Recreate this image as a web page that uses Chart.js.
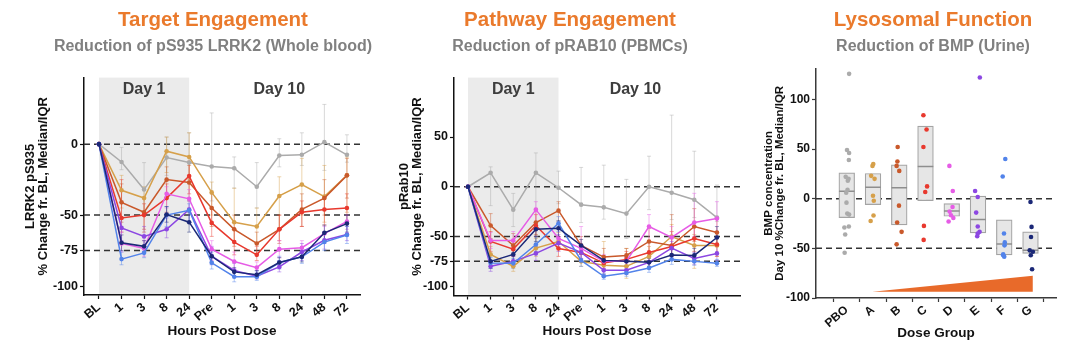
<!DOCTYPE html>
<html>
<head>
<meta charset="utf-8">
<script src="https://cdn.jsdelivr.net/npm/chart.js@4.4.1/dist/chart.umd.min.js"></script>
<style>
  html, body { margin: 0; padding: 0; background: #fff; overflow: hidden; width: 1079px; height: 352px; }
  canvas { position: absolute; top: 0; }
</style>
</head>
<body>
<canvas id="targetChart" width="426" height="352" style="left:0px"></canvas>
<canvas id="pathwayChart" width="380" height="352" style="left:380px"></canvas>
<canvas id="bmpChart" width="346" height="352" style="left:760px"></canvas>
<script>
const FONT = '"Liberation Sans", Arial, sans-serif';

const hourLabels = ['BL', '1', '3', '8', '24', 'Pre', '1', '3', '8', '24', '48', '72'];
const doseGroups = ['PBO', 'A', 'B', 'C', 'D', 'E', 'F', 'G'];
const groupColors = ['#ABABAB', '#D6A04A', '#C9592B', '#E8392E', '#E65CE6', '#8C47E2', '#5283EA', '#1B2877'];

// pS935 LRRK2, % change from BL (median, IQR low, IQR high), rows = dose groups
const pS935Med = [
  [0, -12.6, -32, -9.4, -13, -15.7, -17, -30, -8, -7.5, 1.4, -7.5],
  [0, -32.5, -38, -5, -9, -34, -55, -58, -36.5, -28.5, -37, -22],
  [0, -41, -48, -25, -27, -45, -60, -70, -60, -46, -38, -22],
  [0, -52, -50, -38, -22.5, -55.5, -69, -78, -60, -48, -46, -45],
  [0, -70, -73.5, -35, -38.5, -74, -82.7, -87, -74, -73, -63, -54.5],
  [0, -59, -65, -60, -46, -79, -89, -93, -86.5, -76, -67.7, -63.7],
  [0, -81, -76.6, -50, -46.6, -83.6, -93.4, -93.4, -83.4, -79.4, -69, -64],
  [0, -69.5, -72, -49.6, -55, -79, -90, -92, -83.4, -79.4, -62.5, -56]
];
const pS935Lo = [
  [0, -18, -48, -22, -28, -40, -31, -45, -16, -15, -18.5, -12.7],
  [0, -45, -50, -20, -25, -50, -68, -70, -60, -50, -55, -48],
  [0, -55, -62, -38, -40, -58, -72, -78, -70, -58, -50, -38],
  [0, -62, -60, -48, -35, -65, -78, -82, -68, -58, -57, -55],
  [0, -76, -79, -45, -45, -82, -88, -91, -80, -79, -70, -60],
  [0, -68, -72, -66, -55, -85, -93, -95, -90, -82, -74, -68],
  [0, -85, -80, -58, -55, -88, -97, -96, -88, -84, -75, -70],
  [0, -75, -76, -55, -62, -83, -93, -94, -87, -83, -68, -62]
];
const pS935Hi = [
  [0, -2.3, -13, 5, 8, 22, -9, -13, 3.8, 8, 28, 6.6],
  [0, -22, -30, 5, 8, -26.7, -31, -45, -23, -10, -15, -9],
  [0, -28, -38, -16, -15, -35, -50, -62, -50, -35, -25, -10],
  [0, -25, -42, -28, -12, -45, -60, -72, -50, -40, -38, -35],
  [0, -62, -68, -30, -32, -68, -76, -83, -68, -68, -58, -50],
  [0, -52, -58, -52, -40, -72, -84, -89, -82, -70, -62, -58],
  [0, -76, -72, -44, -42, -76, -89, -90, -79, -74, -63, -58],
  [0, -64, -68, -44, -48, -75, -87, -89, -80, -75, -57, -50]
];

// pRab10, % change from BL (median, IQR low, IQR high)
const pRab10Med = [
  [0, 14, -23, 14, -1, -18, -20.7, -27, 0, -6, -13, -31],
  [0, -68, -80, -61.7, -55, -75, -79, -80, -70, -50, -59, -59],
  [0, -39, -59, -36, -24, -59, -70.7, -69, -55, -59, -40, -46],
  [0, -55, -62.7, -39, -62, -66, -76.7, -73, -66, -60, -52, -58],
  [0, -54, -54, -23, -52, -62, -75, -75, -40, -51, -36, -32],
  [0, -80, -75, -67, -56.7, -66, -84, -84, -76, -61.7, -72, -67],
  [0, -76.7, -77, -58, -36.7, -74, -90, -86.7, -81.7, -73, -75, -77],
  [0, -75, -68, -42.7, -41.7, -59, -74, -75, -76, -68.7, -69, -51]
];
const pRab10Lo = [
  [0, -19, -40, -23, -17, -36, -32.6, -52, -23, -33, -31, -35],
  [0, -75, -85, -70, -62, -80, -88, -92, -80, -60, -82, -70],
  [0, -52, -68, -48, -35, -68, -78, -76, -66, -70, -55, -58],
  [0, -65, -70, -50, -70, -74, -82, -80, -76, -72, -65, -70],
  [0, -62, -62, -35, -60, -72, -82, -82, -55, -60, -50, -45],
  [0, -85, -80, -74, -65, -72, -88, -88, -82, -70, -78, -74],
  [0, -82, -82, -65, -45, -80, -93, -90, -86, -78, -79, -80],
  [0, -82, -75, -55, -50, -65, -78, -79, -80, -74, -76, -60]
];
const pRab10Hi = [
  [0, 20, -6.7, 34, 15.7, 19.4, 21.7, 7.4, 30.7, 72, 35.7, 1.7],
  [0, -60, -74, -52, -46, -68, -55, -62, -60, -38, -48, -50],
  [0, -27, -47, -22, -15, -50, -62, -62, -42, -28, -22, -32],
  [0, -45, -55, -28, -50, -58, -70, -65, -55, -45, -40, -45],
  [0, -46, -45, -15, -42, -40, -68, -70, -28, -40, -6.6, -15],
  [0, -75, -70, -60, -48, -60, -79, -80, -70, -55, -66, -60],
  [0, -71, -72, -50, -30, -68, -87, -83, -77, -68, -71, -73],
  [0, -68, -62, -36, -34, -53, -70, -71, -72, -63, -62, -40]
];

// BMP (urine), Day 10 % change from BL: individual values and horizontal jitter
const bmpValues = [
  [125.7, 49, 46, 39, 22, 20, 18, 9, 6, -4, -15, -16, -28, -29, -36, -54.5],
  [33, 35, 23, 20, 3, -2, -17, -22.4],
  [52, 37.5, 33, 28, -7, -24, -33.4, -46],
  [84, 69.6, 52, 12.4, 6.7, -27.4, -41.5],
  [33, 7.7, -8.4, -13, -16.7, -23, -19.4],
  [122, 7.7, 1.7, -14, -28, -33.4, -35, -37.8],
  [40, 22.4, -35, -44, -47, -56, -58.5, -57],
  [-3.4, -28.4, -38.5, -52, -53.5, -57, -71]
];
const bmpJitter = [
  [0.09, 0.01, 0.09, 0.08, -0.04, 0.07, 0.04, 0.03, -0.02, -0.01, 0.02, 0.09, 0.08, -0.09, -0.06, -0.08],
  [-0.02, 0.01, -0.07, 0.06, 0, 0.03, 0.02, -0.09],
  [-0.06, -0.07, -0.1, 0, -0.01, -0.08, 0.09, -0.1],
  [-0.08, 0.04, -0.08, 0.06, -0.01, -0.06, -0.07],
  [-0.09, 0.04, 0.03, -0.08, -0.03, -0.12, 0.06],
  [0.07, -0.11, -0.01, -0.07, -0.01, 0.06, -0.01, -0.03],
  [0.04, -0.06, -0.01, 0.02, 0.01, -0.04, 0, -0.04],
  [0, 0.04, 0.02, -0.03, 0.09, 0.01, 0.06]
];
const bmpQ1 = [-19, -6, -26.4, -2, -17.7, -34.4, -56.5, -55];
const bmpMedian = [7.4, 11.4, 11, 32.4, -12.4, -21, -45.5, -52];
const bmpQ3 = [26, 25.4, 34, 73, -5, 2.7, -21.4, -33.4];

// dose ramp wedge under the groups
const wedgeX = [0.97, 7.09];
const wedgeY = [-93.7, -77.5];
const wedgeBase = -93.7;

const pS935Ticks = [0, -50, -75, -100];
const pRab10Ticks = [50, 0, -50, -75, -100];
const bmpTicks = [100, 50, 0, -50, -100];
const refLinesHours = [0, -50, -75];
const refLinesBmp = [0, -50];

function withAlpha(hex, a) {
  const n = parseInt(hex.slice(1), 16);
  return `rgba(${n >> 16}, ${(n >> 8) & 255}, ${n & 255}, ${a})`;
}

// grey Day 1 band and day labels, under everything
const panelDecor = {
  id: 'panelDecor',
  beforeDraw(chart, args, opts) {
    const {ctx, chartArea: a, scales: {x}} = chart;
    ctx.save();
    if (opts.shade) {
      const x0 = x.getPixelForValue(opts.shade[0]);
      const x1 = x.getPixelForValue(opts.shade[1]);
      ctx.fillStyle = '#EBEBEB';
      ctx.fillRect(x0, a.top, x1 - x0, a.bottom - a.top);
    }
    ctx.font = 'bold 16px ' + FONT;
    ctx.fillStyle = '#3d3d3d';
    ctx.textAlign = 'center';
    ctx.textBaseline = 'middle';
    (opts.labels || []).forEach(l => {
      ctx.fillText(l.text, x.getPixelForValue(l.x), a.top + 12);
    });
    ctx.restore();
  },
  beforeDatasetsDraw(chart, args, opts) {
    const {ctx, chartArea: a, scales: {y}} = chart;
    ctx.save();
    ctx.strokeStyle = '#333';
    ctx.lineWidth = 1.5;
    ctx.setLineDash([6, 4]);
    (opts.refLines || []).forEach(v => {
      const py = y.getPixelForValue(v);
      ctx.beginPath();
      ctx.moveTo(a.left, py);
      ctx.lineTo(a.right, py);
      ctx.stroke();
    });
    ctx.restore();
  }
};

const errorBars = {
  id: 'errorBars',
  beforeDatasetsDraw(chart) {
    const {ctx, scales: {x, y}} = chart;
    ctx.save();
    ctx.lineWidth = 1;
    chart.data.datasets.forEach(ds => {
      if (!ds.errLo) return;
      ctx.strokeStyle = withAlpha(ds.borderColor, 0.45);
      ds.errLo.forEach((lo, j) => {
        const px = x.getPixelForValue(j);
        const p1 = y.getPixelForValue(lo);
        const p2 = y.getPixelForValue(ds.errHi[j]);
        ctx.beginPath();
        ctx.moveTo(px, p1); ctx.lineTo(px, p2);
        ctx.moveTo(px - 2, p1); ctx.lineTo(px + 2, p1);
        ctx.moveTo(px - 2, p2); ctx.lineTo(px + 2, p2);
        ctx.stroke();
      });
    });
    ctx.restore();
  }
};

function titleOpts(text, sub, gap) {
  return {
    title: {display: true, text: text, color: '#EA7A2C', font: {family: FONT, size: 20.5, weight: 'bold'}, padding: {top: 8, bottom: 4}},
    subtitle: {display: true, text: sub, color: '#808080', font: {family: FONT, size: 16, weight: 'bold'}, padding: {top: 0, bottom: gap}}
  };
}

function xAxis(labels, min, max, height, title, padBottom, axisColor, fontSize) {
  return {
    type: 'linear', min: min, max: max,
    afterBuildTicks: s => { s.ticks = labels.map((_, i) => ({value: i})); },
    afterFit: s => { s.height = height; },
    ticks: {callback: v => labels[v], autoSkip: false, minRotation: 40, maxRotation: 40,
      font: {family: FONT, size: fontSize, weight: 'bold'}, color: '#111', padding: 1},
    grid: {drawOnChartArea: false, tickLength: 4, tickColor: axisColor, tickWidth: 1.2},
    border: {color: axisColor, width: 1.5},
    title: {display: true, text: title, color: '#111', font: {family: FONT, size: 13.5, weight: 'bold'}, padding: {top: 0, bottom: padBottom}}
  };
}

function yAxis(ticks, min, max, width, title, titleSize, padTop, axisColor, fontSize) {
  return {
    min: min, max: max,
    afterBuildTicks: s => { s.ticks = ticks.map(v => ({value: v})); },
    afterFit: s => { s.width = width; },
    ticks: {font: {family: FONT, size: fontSize, weight: 'bold'}, color: '#111', padding: 2},
    grid: {drawOnChartArea: false, tickLength: 4, tickColor: axisColor, tickWidth: 1.2},
    border: {color: axisColor, width: 1.5},
    title: {display: true, text: title, color: '#111', font: {family: FONT, size: titleSize, weight: 'bold', lineHeight: 1.0}, padding: {top: padTop, bottom: 0}}
  };
}

// empty right-hand axis that only reserves blank space, so titles stay centred on the canvas
function spacer(width) {
  return {
    position: 'right', display: true,
    grid: {display: false}, border: {display: false}, ticks: {display: false},
    afterFit: s => { s.width = width; }
  };
}

function lineDatasets(med, lo, hi) {
  return doseGroups.map((g, i) => ({
    label: g,
    data: med[i].map((v, j) => ({x: j, y: v})),
    errLo: lo[i],
    errHi: hi[i],
    borderColor: groupColors[i],
    backgroundColor: groupColors[i],
    pointBackgroundColor: groupColors[i],
    borderWidth: 1.5,
    pointRadius: 2.3,
    pointBorderWidth: 0,
    tension: 0,
    order: doseGroups.length - i
  }));
}

new Chart(document.getElementById('targetChart'), {
  type: 'line',
  data: {datasets: lineDatasets(pS935Med, pS935Lo, pS935Hi)},
  options: {
    responsive: false, animation: false,
    plugins: Object.assign({
      legend: {display: false}, tooltip: {enabled: false},
      panelDecor: {shade: [0, 4], labels: [{text: 'Day 1', x: 2}, {text: 'Day 10', x: 8}], refLines: refLinesHours}
    }, titleOpts('Target Engagement', 'Reduction of pS935 LRRK2 (Whole blood)', 21.8)),
    scales: {
      x: xAxis(hourLabels, -0.665, 11.58, 57, 'Hours Post Dose', 13, '#111', 12.5),
      y: yAxis(pS935Ticks, -106.3, 46.9, 84, ['LRRK2 pS935', '% Change fr. BL, Median/IQR'], 13, 24, '#111', 12.5),
      pad: spacer(66)
    }
  },
  plugins: [panelDecor, errorBars]
});

new Chart(document.getElementById('pathwayChart'), {
  type: 'line',
  data: {datasets: lineDatasets(pRab10Med, pRab10Lo, pRab10Hi)},
  options: {
    responsive: false, animation: false,
    plugins: Object.assign({
      legend: {display: false}, tooltip: {enabled: false},
      panelDecor: {shade: [0, 4], labels: [{text: 'Day 1', x: 2}, {text: 'Day 10', x: 7.4}], refLines: refLinesHours}
    }, titleOpts('Pathway Engagement', 'Reduction of pRAB10 (PBMCs)', 21.8)),
    scales: {
      x: xAxis(hourLabels, -0.618, 12.02, 56.5, 'Hours Post Dose', 13, '#111', 12.5),
      y: yAxis(pRab10Ticks, -109.3, 109.7, 74, ['pRab10', '% Change fr. BL, Median/IQR'], 13, 18, '#111', 12.5),
      pad: spacer(20)
    }
  },
  plugins: [panelDecor, errorBars]
});

const bmpDatasets = [
  {
    type: 'line', label: 'dose',
    data: wedgeX.map((x, i) => ({x: x, y: wedgeY[i]})),
    fill: {value: wedgeBase},
    backgroundColor: '#E86A2A', borderColor: '#E86A2A', borderWidth: 0,
    pointRadius: 0, order: 4
  },
  {
    type: 'bar', label: 'IQR',
    data: doseGroups.map((g, i) => ({x: i, y: [bmpQ1[i], bmpQ3[i]]})),
    backgroundColor: '#E6E6E6', borderColor: '#A4A4A4', borderWidth: 1.2,
    borderSkipped: false, barThickness: 15.7, order: 3
  },
  {
    type: 'scatter', label: 'median',
    data: doseGroups.map((g, i) => ({x: i, y: bmpMedian[i]})),
    pointStyle: 'line', pointRadius: 7.8,
    borderColor: '#8E8E8E', pointBorderColor: '#8E8E8E', borderWidth: 1.5, pointBorderWidth: 1.5,
    order: 2
  }
].concat(doseGroups.map((g, i) => ({
  type: 'scatter', label: g,
  data: bmpValues[i].map((v, k) => ({x: i + bmpJitter[i][k], y: v})),
  backgroundColor: groupColors[i], pointBackgroundColor: groupColors[i],
  pointRadius: 2.3, pointBorderWidth: 0, order: 1
})));

new Chart(document.getElementById('bmpChart'), {
  type: 'scatter',
  data: {datasets: bmpDatasets},
  options: {
    responsive: false, animation: false,
    plugins: Object.assign({
      legend: {display: false}, tooltip: {enabled: false},
      panelDecor: {refLines: refLinesBmp}
    }, titleOpts('Lysosomal Function', 'Reduction of BMP (Urine)', 12.8)),
    scales: {
      x: xAxis(doseGroups, -0.6, 7.4, 54, 'Dose Group', 11, '#3a3a3a', 12),
      y: yAxis(bmpTicks, -100, 131, 56, ['BMP concentration', 'Day 10 %Change fr. BL, Median/IQR'], 11.5, 3, '#3a3a3a', 12),
      pad: spacer(50)
    }
  },
  plugins: [panelDecor]
});
</script>
</body>
</html>
